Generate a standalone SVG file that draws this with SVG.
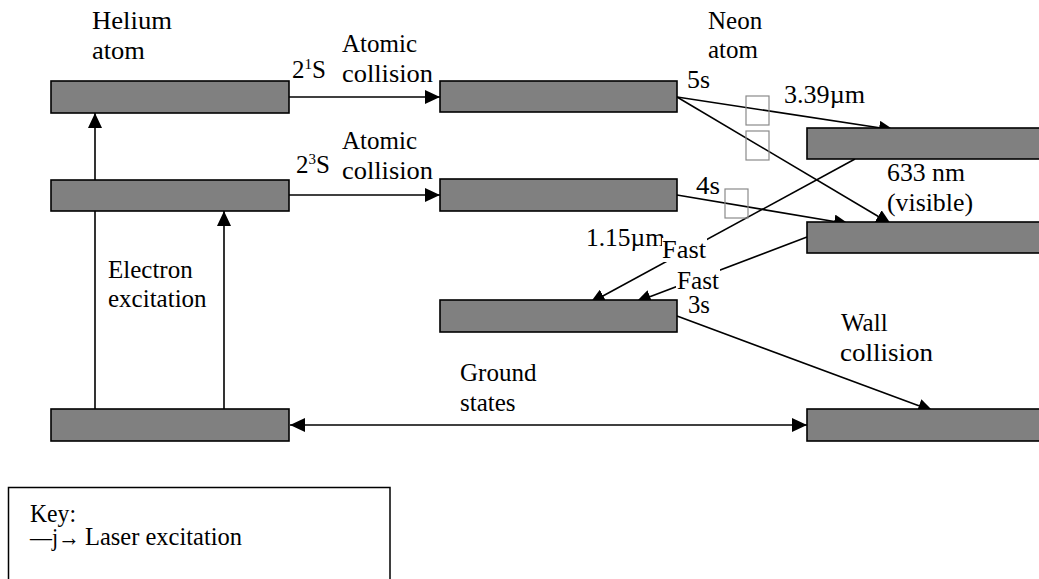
<svg xmlns="http://www.w3.org/2000/svg" width="1039" height="579" viewBox="0 0 1039 579">
<style>
.bar{fill:#808080;stroke:#000;stroke-width:1.6}
.ln{stroke:#000;stroke-width:1.6;fill:none}
.arr{marker-end:url(#ah)}
.sq{fill:none;stroke:#8a8a8a;stroke-width:1.2}
text{font-family:'Liberation Serif','Times New Roman',serif;font-size:25px;fill:#000}
.bg{fill:#fff}
</style>
<defs>
<marker id="ah" markerUnits="userSpaceOnUse" markerWidth="15" markerHeight="14" refX="15" refY="7" orient="auto-start-reverse" viewBox="0 0 15 14">
<path d="M0,0 L15,7 L0,14 z" fill="#000"/>
</marker>
</defs>
<rect width="1039" height="579" fill="#fff"/>

<g id="connectors">
<line class="ln arr" x1="95" y1="409" x2="95" y2="113"/>
<line class="ln arr" x1="224" y1="409" x2="224" y2="211"/>
<line class="ln arr" x1="289" y1="97" x2="440" y2="97"/>
<line class="ln arr" x1="289" y1="195" x2="440" y2="195"/>
<line class="ln arr" x1="290" y1="425" x2="807" y2="425" marker-start="url(#ah)"/>
<line class="ln arr" x1="677" y1="97" x2="894" y2="130"/>
<line class="ln arr" x1="677" y1="97" x2="891" y2="224"/>
<line class="ln arr" x1="677" y1="195" x2="849" y2="224"/>
<line class="ln arr" x1="855" y1="159" x2="590" y2="303"/>
<line class="ln arr" x1="807" y1="237" x2="636" y2="302"/>
<line class="ln arr" x1="677" y1="316" x2="933" y2="411"/>
</g>

<g id="laser-marks">
<rect class="sq" x="746" y="96" width="23" height="29"/>
<rect class="sq" x="746" y="131" width="23" height="29"/>
<rect class="sq" x="725" y="189" width="23" height="29"/>
</g>

<g id="he-2-1S"><rect class="bar" x="51" y="81" width="238" height="32"/></g>
<g id="he-2-3S"><rect class="bar" x="51" y="180" width="238" height="31"/></g>
<g id="he-ground"><rect class="bar" x="51" y="409" width="238" height="32"/></g>
<g id="ne-5s"><rect class="bar" x="440" y="81" width="237" height="31"/></g>
<g id="ne-4s"><rect class="bar" x="440" y="179" width="237" height="32"/></g>
<g id="ne-3s"><rect class="bar" x="440" y="300" width="237" height="32"/></g>
<g id="ne-3p-upper"><rect class="bar" x="807" y="128" width="240" height="31"/></g>
<g id="ne-3p-lower"><rect class="bar" x="807" y="222" width="240" height="31"/></g>
<g id="ne-ground"><rect class="bar" x="807" y="409" width="240" height="32"/></g>

<g id="labels">
<text x="92" y="29" textLength="80" lengthAdjust="spacingAndGlyphs">Helium</text>
<text x="92" y="59" textLength="53" lengthAdjust="spacingAndGlyphs">atom</text>
<text x="708" y="29">Neon</text>
<text x="708" y="58">atom</text>
<text x="342" y="52" textLength="75" lengthAdjust="spacingAndGlyphs">Atomic</text>
<text x="342" y="82" textLength="91" lengthAdjust="spacingAndGlyphs">collision</text>
<text x="342" y="149" textLength="75" lengthAdjust="spacingAndGlyphs">Atomic</text>
<text x="342" y="179" textLength="91" lengthAdjust="spacingAndGlyphs">collision</text>
<text x="292" y="78">2<tspan font-size="15" dy="-9">1</tspan><tspan dy="9">S</tspan></text>
<text x="296" y="173">2<tspan font-size="15" dy="-9">3</tspan><tspan dy="9">S</tspan></text>
<text x="108" y="278">Electron</text>
<text x="108" y="307">excitation</text>
<text x="460" y="381">Ground</text>
<text x="460" y="411">states</text>
<text x="687" y="88" textLength="23" lengthAdjust="spacingAndGlyphs">5s</text>
<text x="784" y="103" textLength="81" lengthAdjust="spacingAndGlyphs">3.39µm</text>
<text x="887" y="181" textLength="78" lengthAdjust="spacingAndGlyphs">633 nm</text>
<text x="887" y="211" textLength="86" lengthAdjust="spacingAndGlyphs">(visible)</text>
<text x="696" y="194" textLength="24" lengthAdjust="spacingAndGlyphs">4s</text>
<text x="586" y="246" textLength="79" lengthAdjust="spacingAndGlyphs">1.15µm</text>
<rect class="bg" x="662" y="238" width="45" height="24"/>
<text x="662" y="258" textLength="44" lengthAdjust="spacingAndGlyphs">Fast</text>
<rect class="bg" x="676" y="269" width="44" height="24"/>
<text x="677" y="289" textLength="42" lengthAdjust="spacingAndGlyphs">Fast</text>
<text x="688" y="313" textLength="22" lengthAdjust="spacingAndGlyphs">3s</text>
<text x="841" y="331">Wall</text>
<text x="840" y="361" textLength="93" lengthAdjust="spacingAndGlyphs">collision</text>
</g>

<g id="key">
<rect x="8.5" y="487.5" width="381.5" height="120" fill="none" stroke="#000" stroke-width="1.5"/>
<text x="30" y="522" textLength="46" lengthAdjust="spacingAndGlyphs">Key:</text>
<text x="30" y="546" textLength="50" lengthAdjust="spacingAndGlyphs">—j→</text>
<text x="85" y="545" textLength="157" lengthAdjust="spacingAndGlyphs">Laser excitation</text>
</g>
</svg>
